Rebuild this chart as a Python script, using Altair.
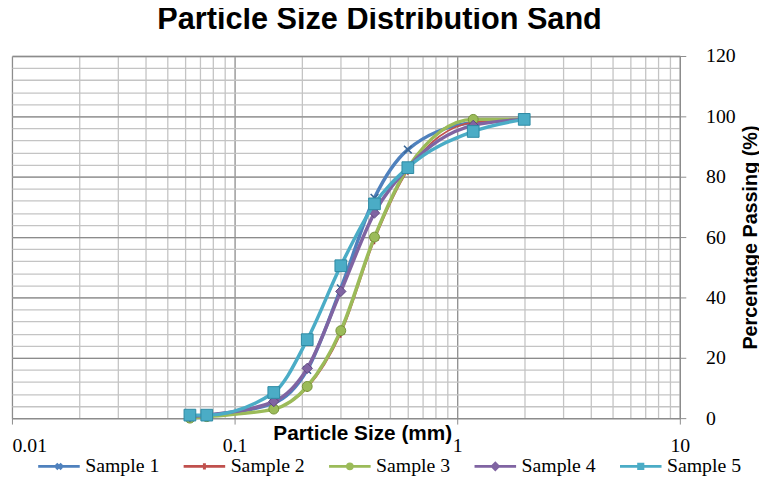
import altair as alt
import pandas as pd

sizes = [0.063, 0.075, 0.15, 0.212, 0.3, 0.425, 0.6, 1.18, 2.0]
series_names = ["Sample 1", "Sample 2", "Sample 3", "Sample 4", "Sample 5"]
s1 = [0.5, 1.0, 5.0, 16.0, 43.0, 73.0, 89.0, 98.0, 99.0]
s2 = [0.0, 0.5, 3.0, 10.0, 28.0, 59.0, 82.0, 98.0, 99.0]
s3 = [0.0, 0.5, 3.0, 10.5, 29.0, 60.0, 83.0, 99.0, 99.0]
s4 = [0.5, 1.0, 5.5, 16.5, 42.0, 68.0, 83.0, 97.0, 99.0]
s5 = [1.0, 1.0, 8.5, 26.0, 50.5, 71.0, 83.0, 95.0, 99.0]
all_vals = [s1, s2, s3, s4, s5]

x_major = [0.01, 0.1, 1, 10]
x_minor = [m * d for d in [0.01, 0.1, 1] for m in range(2, 10)]
y_major = [0, 20, 40, 60, 80, 100, 120]
y_minor = list(range(0, 121, 4))

colors = ["#4F81BD", "#C0504D", "#9BBB59", "#8064A2", "#4BACC6"]
marker_fill = ["#4F81BD", "#C0504D", "#9BBB59", "#8064A2", "#4BACC6"]
marker_stroke = ["#3B6796", "#A33D3A", "#76943A", "#5E4680", "#2E8AA3"]
line_widths = [3.5, 1.6, 3.5, 3.5, 3.5]
shapes = ["M-1,-1L1,1M-1,1L1,-1", "M-1,0L1,0M0,-1L0,1", "circle", "diamond", "square"]
marker_sizes = [60, 70, 100, 110, 140]
marker_filled = [False, False, True, True, True]

legend_paths = [
    "M-1,0L1,0M-0.13,-0.13L0.13,0.13M-0.13,0.13L0.13,-0.13",
    "M-1,0L1,0M0,-0.15L0,0.15",
    "M-1,0L-0.11,0A0.11,0.11 0 1,1 0.11,0L1,0M0.11,0A0.11,0.11 0 1,1 -0.11,0",
    "M-1,0L-0.14,0L0,-0.14L0.14,0L1,0L0.14,0L0,0.14L-0.14,0Z",
    "M-1,0L-0.1,0L-0.1,-0.1L0.1,-0.1L0.1,0L1,0L0.1,0L0.1,0.1L-0.1,0.1L-0.1,0Z",
]

rows = []
for name, vals in zip(series_names, all_vals):
    for s, v in zip(sizes, vals):
        rows.append({"size": s, "pct": v, "series": name})
df = pd.DataFrame(rows)

xscale = alt.Scale(type="log", domain=[0.01, 10], nice=False)
yscale = alt.Scale(domain=[0, 120], nice=False, zero=True)

LABEL_FONT = "Liberation Serif"
TITLE_FONT = "Liberation Sans"

minor_x_axis = alt.Axis(values=x_minor, grid=True, gridColor="#C4C4C4", gridWidth=1.3,
                        labels=False, ticks=False, domain=False, title=None, orient="bottom")
minor_y_axis = alt.Axis(values=y_minor, grid=True, gridColor="#C4C4C4", gridWidth=1.3,
                        labels=False, ticks=False, domain=False, title=None, orient="right")
major_x_axis = alt.Axis(values=x_major, grid=True, gridColor="#8C8C8C", gridWidth=1.3,
                        orient="bottom",
                        format="~g", labelFont=LABEL_FONT, labelFontSize=20, labelColor="#000",
                        labelPadding=12, tickSize=6, tickColor="#8C8C8C", domainColor="#8C8C8C",
                        domainWidth=1.3, labelFlush=False,
                        labelAlign={"condition": {"test": "datum.value <= 0.011", "value": "left"},
                                    "value": "center"},
                        title="Particle Size (mm)", titleFont=TITLE_FONT, titleFontSize=21,
                        titleFontWeight="bold", titleColor="#000", titleX=354, titleY=16,
                        titleBaseline="middle", titleAlign="center")
major_y_axis = alt.Axis(values=y_major, grid=True, gridColor="#8C8C8C", gridWidth=1.3,
                        orient="right", labelFont=LABEL_FONT, labelFontSize=20, labelColor="#000",
                        labelPadding=20, tickSize=6, tickColor="#8C8C8C", domainColor="#8C8C8C",
                        domainWidth=1.3,
                        title="Percentage Passing (%)", titleFont=TITLE_FONT, titleFontSize=20,
                        titleFontWeight="bold", titleColor="#000", titleAngle=270,
                        titleX=71, titleY=183, titleBaseline="middle", titleAlign="center")

layers = []
for i, name in enumerate(series_names):
    sub = df[df["series"] == name]
    if i == 0:
        xa, ya = minor_x_axis, minor_y_axis
        xb, yb = major_x_axis, major_y_axis
    else:
        xa = ya = xb = yb = None
    line = alt.Chart(sub).mark_line(
        interpolate="monotone", color=colors[i], strokeWidth=line_widths[i]
    ).encode(
        x=alt.X("size:Q", scale=xscale, axis=xa),
        y=alt.Y("pct:Q", scale=yscale, axis=ya),
    )
    if marker_filled[i]:
        pts = alt.Chart(sub).mark_point(
            shape=shapes[i], size=marker_sizes[i], filled=True, fill=marker_fill[i],
            stroke=marker_stroke[i], strokeWidth=1, opacity=1
        )
    else:
        pts = alt.Chart(sub).mark_point(
            shape=shapes[i], size=marker_sizes[i], filled=False, stroke=marker_stroke[i],
            strokeWidth=1.6, opacity=1
        )
    pts = pts.encode(
        x=alt.X("size:Q", scale=xscale, axis=xb),
        y=alt.Y("pct:Q", scale=yscale, axis=yb),
    )
    layers += [line, pts]

leg = alt.Legend(title=None, orient="none", direction="horizontal", legendX=25, legendY=392,
                 labelFont=LABEL_FONT, labelFontSize=20, labelColor="#000", labelOffset=4,
                 columnPadding=18, symbolSize=1764, symbolStrokeWidth=3, symbolOpacity=1,
                 columns=5)
legend_layer = alt.Chart(df).transform_filter("false").mark_point(filled=True).encode(
    fill=alt.Fill("series:N", scale=alt.Scale(domain=series_names, range=colors), legend=leg),
    stroke=alt.Stroke("series:N", scale=alt.Scale(domain=series_names, range=colors), legend=leg),
    shape=alt.Shape("series:N", scale=alt.Scale(domain=series_names, range=legend_paths), legend=leg),
)
layers.append(legend_layer)

chart = alt.layer(*layers).resolve_axis(x="independent", y="independent").properties(
    width=675, height=366,
    autosize=alt.AutoSizeParams(type="none"),
    padding={"left": 4, "top": 46, "right": 80, "bottom": 60},
    title=alt.TitleParams("Particle Size Distribution Sand", font=TITLE_FONT, fontSize=31,
                          fontWeight="bold", color="#000", anchor="middle", dx=34, offset=10),
).configure_view(stroke=None)

chart.save("out.html", embed_options={"renderer": "svg", "actions": False})
